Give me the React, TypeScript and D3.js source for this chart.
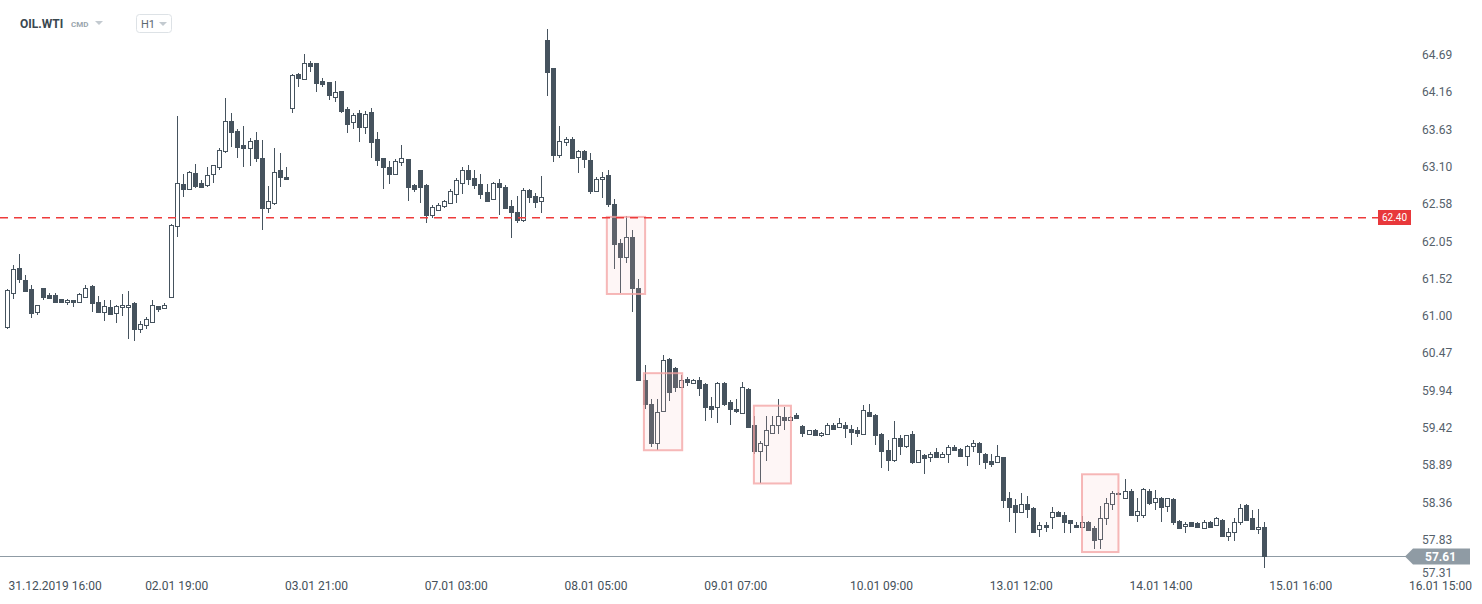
import React from "react";
import * as d3 from "d3";

// ---- Data (H1 candles, OIL.WTI) ----
const opens = [60.84,61.33,61.68,61.51,61.38,61.05,61.40,61.30,61.30,61.24,61.20,61.22,61.20,61.27,61.42,61.20,61.06,61.12,61.04,61.12,61.13,61.18,60.82,60.87,60.92,61.14,61.11,61.27,62.27,62.86,62.79,63.02,62.88,62.85,63.00,63.10,63.33,63.76,63.62,63.42,63.38,63.49,63.23,62.53,62.60,63.06,62.96,63.94,64.42,64.35,64.58,64.58,64.32,64.31,64.10,64.18,63.93,63.74,63.87,63.67,63.88,63.50,63.23,63.10,63.00,63.17,63.22,62.85,63.06,62.85,62.42,62.50,62.55,62.59,62.73,62.88,63.06,62.95,62.86,62.75,62.66,62.88,62.82,62.56,62.47,62.35,62.78,62.70,62.62,64.90,64.51,63.27,63.46,63.50,63.25,63.33,63.20,62.77,62.93,62.99,62.58,62.03,61.84,62.11,61.40,60.09,59.76,59.20,59.65,60.39,60.26,60.00,60.11,60.05,60.09,60.04,59.73,59.71,60.05,59.78,59.69,59.63,59.97,59.46,59.09,59.17,59.35,59.45,59.57,59.53,59.60,59.44,59.33,59.38,59.32,59.33,59.46,59.43,59.46,59.40,59.39,59.33,59.64,59.60,59.33,59.10,58.96,59.27,59.16,59.33,58.93,59.03,59.00,59.07,59.00,59.04,59.14,59.12,59.02,59.16,59.20,59.05,58.95,58.94,59.00,58.42,58.32,58.23,58.34,58.28,57.98,58.04,58.16,58.22,58.18,58.11,58.04,58.02,58.09,58.00,57.85,58.14,58.34,58.50,58.43,58.53,58.19,58.19,58.52,58.37,58.43,58.31,58.41,58.10,58.03,58.08,58.07,58.00,58.09,58.04,58.12,57.89,57.94,58.08,58.33,58.14,57.98,58.01];
const highs = [61.38,61.72,61.88,61.58,61.44,61.15,61.40,61.33,61.32,61.24,61.24,61.23,61.32,61.44,61.44,61.28,61.22,61.22,61.15,61.31,61.35,61.20,60.93,60.98,61.23,61.14,61.18,62.30,63.83,63.01,63.05,63.15,62.92,63.10,63.13,63.38,64.08,63.87,63.64,63.68,63.51,63.60,63.49,62.84,63.37,63.30,63.11,64.42,64.43,64.70,64.60,64.58,64.37,64.31,64.32,64.18,63.95,63.87,63.91,63.90,63.94,63.60,63.24,63.19,63.22,63.42,63.22,62.86,63.06,62.86,62.57,62.60,62.64,62.80,62.95,63.11,63.14,63.06,63.01,62.86,62.89,62.94,62.85,62.64,62.70,62.81,62.79,62.74,62.98,65.06,64.51,63.68,63.53,63.53,63.34,63.34,63.31,62.96,63.04,63.06,62.66,62.09,62.41,62.21,61.52,60.31,59.82,59.82,60.45,60.40,60.28,60.16,60.14,60.11,60.13,60.05,59.85,60.07,60.06,59.81,59.83,60.06,59.98,59.58,59.23,59.58,59.58,59.82,59.71,59.58,59.63,59.45,59.39,59.40,59.36,59.48,59.48,59.55,59.50,59.45,59.43,59.74,59.75,59.61,59.35,59.24,59.52,59.31,59.32,59.37,59.11,59.04,59.08,59.13,59.07,59.18,59.17,59.13,59.18,59.24,59.21,59.06,59.05,59.17,59.01,58.51,58.41,58.49,58.45,58.30,58.09,58.09,58.30,58.24,58.23,58.12,58.09,58.17,58.10,58.03,58.31,58.42,58.53,58.51,58.69,58.55,58.43,58.56,58.55,58.54,58.44,58.43,58.42,58.12,58.08,58.09,58.08,58.12,58.10,58.15,58.13,58.00,58.14,58.34,58.34,58.25,58.27,58.08];
const lows = [60.81,61.24,61.47,61.34,60.97,61.01,61.22,61.25,61.19,61.18,61.16,61.12,61.19,61.27,61.06,61.06,60.93,61.01,60.90,61.00,60.68,60.64,60.76,60.81,60.92,61.06,61.11,61.25,62.12,62.68,62.78,62.81,62.82,62.82,62.88,63.07,63.31,63.39,63.23,63.11,63.12,63.17,62.21,62.46,62.57,62.83,62.92,63.87,64.24,64.34,64.45,64.16,64.24,64.06,64.02,63.87,63.59,63.65,63.46,63.57,63.24,63.12,62.80,62.87,63.00,63.12,62.63,62.75,62.60,62.31,62.38,62.48,62.53,62.59,62.59,62.73,62.85,62.80,62.66,62.61,62.64,62.42,62.52,62.10,62.31,62.33,62.59,62.53,62.46,64.11,63.18,63.23,63.41,63.24,63.02,63.09,62.72,62.75,62.67,62.54,61.67,61.33,61.75,61.06,60.09,59.68,59.15,59.11,59.64,59.80,59.93,59.99,60.01,60.04,59.87,59.52,59.56,59.49,59.73,59.45,59.62,59.61,59.43,59.05,58.64,58.95,59.33,59.33,59.39,59.52,59.54,59.29,59.31,59.31,59.29,59.32,59.38,59.41,59.28,59.17,59.29,59.32,59.57,59.17,58.85,58.80,58.94,59.03,59.13,58.91,58.92,58.76,58.94,59.00,58.99,58.92,59.09,59.01,58.88,59.07,58.89,58.84,58.87,58.93,58.29,58.08,57.93,58.22,58.14,57.94,57.87,57.95,57.98,58.16,57.93,57.93,58.00,58.01,57.97,57.70,57.71,58.04,58.25,58.47,58.42,58.17,58.08,58.14,58.33,58.25,58.08,58.23,58.04,57.99,57.93,58.01,58.00,57.99,58.01,58.03,57.87,57.82,57.82,58.04,58.10,57.97,57.91,57.44];
const closes = [61.37,61.66,61.52,61.35,61.04,61.15,61.27,61.26,61.20,61.19,61.23,61.19,61.31,61.39,61.18,61.06,61.14,61.02,61.14,61.16,61.16,60.82,60.88,60.95,61.15,61.10,61.15,62.29,62.88,62.80,63.03,62.84,62.82,62.99,63.13,63.35,63.76,63.60,63.39,63.38,63.47,63.24,62.52,62.63,63.03,62.97,62.93,64.41,64.36,64.58,64.53,64.30,64.28,64.12,64.17,63.90,63.72,63.84,63.67,63.86,63.46,63.20,63.11,63.00,63.19,63.23,62.83,62.80,62.83,62.43,62.54,62.57,62.62,62.76,62.92,63.06,62.93,62.85,62.73,62.63,62.88,62.83,62.52,62.47,62.35,62.78,62.68,62.61,62.68,64.45,63.27,63.47,63.50,63.24,63.33,63.22,62.76,62.93,62.97,62.58,62.01,61.84,62.11,61.39,60.10,59.76,59.20,59.64,60.38,59.93,60.00,60.09,60.06,60.09,59.98,59.71,59.69,60.05,59.75,59.68,59.65,59.99,59.43,59.09,59.20,59.39,59.46,59.58,59.53,59.57,59.55,59.34,59.38,59.31,59.35,59.45,59.40,59.48,59.41,59.36,59.35,59.67,59.59,59.31,59.09,58.96,59.28,59.16,59.31,58.94,59.10,58.99,59.05,59.00,59.05,59.14,59.11,59.02,59.16,59.20,59.07,58.94,58.91,59.02,58.40,58.30,58.23,58.34,58.27,57.95,58.04,58.01,58.22,58.17,58.08,58.07,58.01,58.08,57.97,57.83,58.14,58.35,58.49,58.48,58.53,58.18,58.24,58.55,58.36,58.42,58.30,58.42,58.09,58.00,58.06,58.03,58.02,58.08,58.02,58.14,57.88,57.95,58.08,58.29,58.11,57.98,58.01,57.61];

const yTickValues = [64.69,64.16,63.63,63.10,62.58,62.05,61.52,61.00,60.47,59.94,59.42,58.89,58.36,57.83,57.31];
const xTickLabels = ["31.12.2019 16:00","02.01 19:00","03.01 21:00","07.01 03:00","08.01 05:00","09.01 07:00","10.01 09:00","13.01 12:00","14.01 14:00","15.01 16:00","16.01 15:00"];
const xTickIndex = [8,28,51,74,97,120,144,167,190,213,236];

const alertLevel = 62.40;
const lastPrice = 57.61;

// highlighted zones: [startIndex, endIndex, topPrice, bottomPrice]
const zones: [number, number, number, number][] = [
  [98.8, 105.1, 62.40, 61.31],
  [104.9, 111.2, 60.19, 59.10],
  [123.0, 129.1, 59.73, 58.63],
  [177.0, 183.0, 58.76, 57.66],
];

const W = 1482, H = 604;
const CANDLE = "#46535e";
const FONT = "Roboto, Arial, sans-serif";

export default function App() {
  const n = opens.length;
  const x = d3.scaleLinear().domain([0, n - 1]).range([6.5, 1264.3]);
  const y = d3.scaleLinear().domain([57.31, 64.69]).range([576.8, 55]);

  const candles = d3.range(n).map((i) => {
    const o = opens[i], c = closes[i], h = highs[i], l = lows[i];
    const cx = Math.round(x(i));
    const up = c >= o;
    const top = Math.round(y(Math.max(o, c)));
    const bot = Math.round(y(Math.min(o, c)));
    return (
      <g key={i}>
        <line x1={cx + 0.5} x2={cx + 0.5} y1={y(h)} y2={y(l)} stroke={CANDLE} strokeWidth={1} />
        <rect
          x={cx - 1.5}
          y={top + 0.5}
          width={4}
          height={Math.max(1, bot - top)}
          fill={up ? "#ffffff" : CANDLE}
          stroke={CANDLE}
          strokeWidth={1}
        />
      </g>
    );
  });

  const yAlert = Math.round(y(alertLevel)) + 0.75;
  const yLast = Math.round(y(lastPrice)) + 0.5;

  return (
    <svg
      width={W}
      height={H}
      style={{ position: "fixed", left: 0, top: 0, background: "#fff", fontFamily: FONT }}
    >
      {/* header */}
      <text x={20} y={28} fontSize={12} fontWeight={700} fill="#3a4750">OIL.WTI</text>
      <text x={71} y={27} fontSize={8} fontWeight={700} fill="#9aa5ad">CMD</text>
      <path d="M95,21 L103,21 L99,25 Z" fill="#c3cad0" />
      <rect x={136.5} y={14.5} width={35} height={18} rx={3} fill="#fff" stroke="#dde2e6" />
      <text x={141} y={28} fontSize={11} fill="#5b6770">H1</text>
      <path d="M159,22 L167,22 L163,26 Z" fill="#c3cad0" />

      {/* y axis labels */}
      {yTickValues.map((v, i) => (
        <text key={i} x={1422} y={Math.min(y(v), 573) + 4} fontSize={12} fill="#55616b">
          {v.toFixed(2)}
        </text>
      ))}

      {/* x axis labels */}
      {xTickLabels.map((t, i) => (
        <text key={i} x={x(xTickIndex[i])} y={590} fontSize={12} fill="#45515a" textAnchor="middle">
          {t}
        </text>
      ))}

      {/* last price line */}
      <line x1={0} x2={1406} y1={yLast} y2={yLast} stroke="#8f9ba4" strokeWidth={1} />

      {/* candles */}
      <g shapeRendering="crispEdges">{candles}</g>

      {/* zones */}
      {zones.map(([a, b, t, bt], i) => (
        <rect
          key={i}
          x={x(a)}
          y={y(t)}
          width={x(b) - x(a)}
          height={y(bt) - y(t)}
          fill="rgba(248,190,190,0.14)"
          stroke="rgba(243,160,160,0.75)"
          strokeWidth={2}
        />
      ))}

      {/* alert line */}
      <line x1={0} x2={1378} y1={yAlert} y2={yAlert} stroke="#ee3b3b" strokeWidth={1.5} strokeDasharray="8,6" />
      <rect x={1378} y={Math.round(y(alertLevel)) - 7} width={33} height={15} fill="#e8383b" />
      <text x={1394.5} y={Math.round(y(alertLevel)) + 4} fontSize={10} fill="#fff" textAnchor="middle">{alertLevel.toFixed(2)}</text>

      {/* last price label */}
      <path
        d={`M1405,${yLast} L1413,${yLast - 8} L1470,${yLast - 8} L1470,${yLast + 8} L1413,${yLast + 8} Z`}
        fill="#8f9ba4"
      />
      <text x={1425} y={yLast + 4.5} fontSize={12} fontWeight={700} fill="#fff">{lastPrice.toFixed(2)}</text>
    </svg>
  );
}
